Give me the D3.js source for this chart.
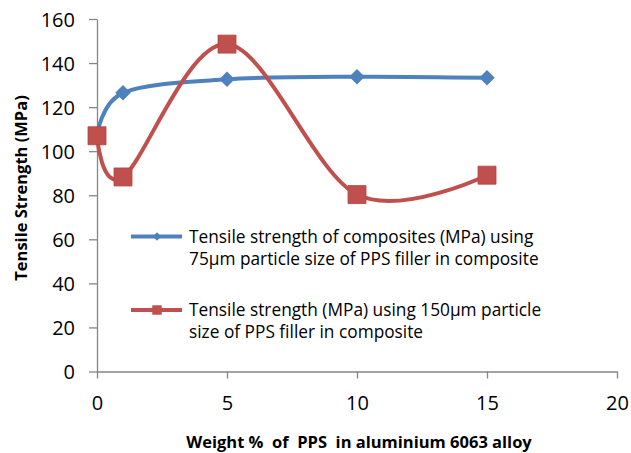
<!DOCTYPE html>
<html><head><meta charset="utf-8">
<script src="https://cdn.jsdelivr.net/npm/d3@7"></script>
<style>html,body{margin:0;padding:0;background:#fff}svg{display:block}text{white-space:pre}</style>
</head><body>
<svg id="c" width="631" height="453"></svg>
<script>
const xValues = [0, 1, 5, 10, 15];
const series75 = [107, 126.5, 132.6, 133.8, 133.3];
const series150 = [107, 88.3, 148.6, 80.3, 89.1];
const xTicks = [0, 5, 10, 15, 20];
const yTicks = [0, 20, 40, 60, 80, 100, 120, 140, 160];
const seriesNames = [
  ["Tensile strength of composites (MPa) using", "75\u00b5m particle size of PPS filler in composite"],
  ["Tensile strength (MPa) using 150\u00b5m particle", "size of PPS filler in composite"]
];
const xTitle = "Weight %  of  PPS  in aluminium 6063 alloy";
const yTitle = "Tensile Strength (MPa)";

const svg = d3.select("#c");
const x = d3.scaleLinear().domain([0, 20]).range([97, 617]);
const y = d3.scaleLinear().domain([0, 160]).range([371.5, 19]);
const axisColor = "#868686";
const font = "'Open Sans', sans-serif";

// axes
const gx = svg.append("g").attr("transform", `translate(0,${y(0)})`)
  .call(d3.axisBottom(x).tickValues(xTicks).tickSize(7).tickPadding(17).tickSizeOuter(0));
const gy = svg.append("g").attr("transform", `translate(${x(0)},0)`)
  .call(d3.axisLeft(y).tickValues(yTicks).tickSize(8).tickPadding(14).tickSizeOuter(0));
[gx, gy].forEach(g => {
  g.select(".domain").attr("stroke", axisColor).attr("stroke-width", 1.3);
  g.selectAll(".tick line").attr("stroke", axisColor).attr("stroke-width", 1.3);
  g.selectAll(".tick text").attr("fill", "#000").attr("font-family", font).attr("font-size", 20);
});
gy.selectAll(".tick text").attr("dy", "0.36em");

// titles
svg.append("text").attr("x", 359).attr("y", 448).attr("text-anchor", "middle")
  .attr("font-family", font).attr("font-weight", "bold").attr("font-size", 16.5).text(xTitle);
svg.append("text").attr("transform", "translate(27,188) rotate(-90)").attr("text-anchor", "middle")
  .attr("font-family", font).attr("font-weight", "bold").attr("font-size", 16.5).text(yTitle);

const line = d3.line().x((d, i) => x(xValues[i])).y(d => y(d)).curve(d3.curveCardinal.tension(0));
const blue = "#4F81BD", red = "#C0504D";

svg.append("path").attr("d", line(series75)).attr("fill", "none").attr("stroke", blue).attr("stroke-width", 4);
svg.append("path").attr("d", line(series150)).attr("fill", "none").attr("stroke", red).attr("stroke-width", 4);

const diamond = d3.symbol(d3.symbolSquare).size(120)();
const square = d3.symbol(d3.symbolSquare).size(324)();
svg.selectAll(".m75").data(series75).enter().append("path")
  .attr("d", diamond).attr("fill", blue)
  .attr("transform", (d, i) => `translate(${x(xValues[i])},${y(d)}) rotate(45)`);
svg.selectAll(".m150").data(series150).enter().append("path")
  .attr("d", square).attr("fill", red).attr("stroke", "#b4443f").attr("stroke-width", 0.8)
  .attr("transform", (d, i) => `translate(${x(xValues[i])},${y(d)})`);

// legend
const legY = [236.5, 310];
const legend = svg.append("g");
legY.forEach((ly, k) => {
  const c = k === 0 ? blue : red;
  legend.append("line").attr("x1", 131).attr("x2", 182).attr("y1", ly).attr("y2", ly)
    .attr("stroke", c).attr("stroke-width", 4);
  if (k === 0) {
    legend.append("path").attr("d", d3.symbol(d3.symbolSquare).size(36)())
      .attr("fill", c).attr("transform", `translate(157,${ly}) rotate(45)`);
  } else {
    legend.append("path").attr("d", d3.symbol(d3.symbolSquare).size(90)())
      .attr("fill", c).attr("transform", `translate(157,${ly})`);
  }
  seriesNames[k].forEach((t, j) => {
    legend.append("text").attr("x", 189).attr("y", ly + 6 + j * 22)
      .attr("font-family", font).attr("font-size", 17.3).attr("fill", "#000").text(t);
  });
});
</script>
</body></html>
